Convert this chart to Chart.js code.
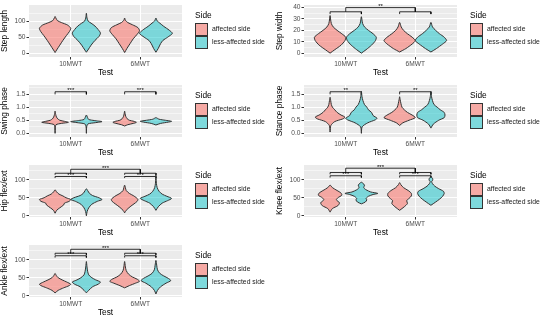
<!DOCTYPE html>
<html>
<head>
<meta charset="utf-8">
<script src="https://cdn.jsdelivr.net/npm/chart.js@4.4.0/dist/chart.umd.min.js"></script>
<style>
  body { margin: 0; background: #fff; }
  #wrap { position: relative; width: 550px; height: 320px; }
  canvas { position: absolute; }
</style>
</head>
<body>
<div id="wrap">
  <canvas id="stepLength" width="275" height="80" style="left:0;top:0"></canvas>
  <canvas id="stepWidth" width="275" height="80" style="left:275px;top:0"></canvas>
  <canvas id="swing" width="275" height="80" style="left:0;top:80px"></canvas>
  <canvas id="stance" width="275" height="80" style="left:275px;top:80px"></canvas>
  <canvas id="hip" width="275" height="80" style="left:0;top:160px"></canvas>
  <canvas id="knee" width="275" height="80" style="left:275px;top:160px"></canvas>
  <canvas id="ankle" width="275" height="80" style="left:0;top:240px"></canvas>
</div>
<script>
const tests = ['10MWT', '6MWT'];
const sides = ['affected side', 'less-affected side'];

// violin outlines, bottom tip to top tip: [value, relative width]
const stepLength10Aff  = [[2,0],[10,0.1],[25,0.3],[40,0.5],[55,0.72],[68,0.92],[78,1.0],[88,0.8],[96,0.4],[102,0.15],[110,0.05],[115,0]];
const stepLength10Less = [[3,0],[10,0.1],[25,0.3],[40,0.55],[52,0.8],[63,0.9],[74,0.75],[85,0.55],[94,0.3],[100,0.12],[110,0.04],[125,0]];
const stepLength6Aff   = [[2,0],[15,0.15],[30,0.35],[45,0.55],[58,0.78],[70,0.95],[80,0.85],[89,0.5],[96,0.2],[103,0.05],[110,0]];
const stepLength6Less  = [[3,0],[15,0.15],[30,0.3],[40,0.45],[50,0.75],[62,1.05],[72,0.85],[84,0.5],[94,0.25],[101,0.08],[110,0]];

const stepWidth10Aff  = [[0,0],[3,0.3],[7,0.7],[11,0.95],[14,1.0],[17,0.75],[20,0.45],[23,0.2],[26,0.08],[30,0.03],[33,0]];
const stepWidth10Less = [[0,0],[3,0.3],[7,0.65],[11,0.9],[14,0.95],[17,0.75],[20,0.45],[23,0.2],[26,0.08],[29,0.04],[32,0]];
const stepWidth6Aff   = [[1,0],[4,0.4],[8,0.8],[11,1.0],[14,0.8],[17,0.5],[20,0.25],[23,0.1],[27,0]];
const stepWidth6Less  = [[1,0],[4,0.35],[8,0.75],[11,1.0],[14,0.85],[17,0.55],[20,0.3],[23,0.1],[27,0]];

const swing10Aff  = [[0,0],[0.2,0.02],[0.33,0.06],[0.38,0.4],[0.42,0.85],[0.46,0.6],[0.5,0.3],[0.55,0.18],[0.62,0.09],[0.72,0.04],[0.85,0]];
const swing10Less = [[0,0],[0.25,0.02],[0.36,0.1],[0.41,0.6],[0.45,1.0],[0.49,0.5],[0.53,0.15],[0.6,0.08],[0.7,0]];
const swing6Aff   = [[0.28,0],[0.33,0.2],[0.38,0.55],[0.42,0.75],[0.46,0.6],[0.5,0.3],[0.56,0.16],[0.65,0.07],[0.75,0.03],[0.85,0]];
const swing6Less  = [[0.32,0],[0.38,0.3],[0.43,0.8],[0.46,1.0],[0.5,0.6],[0.54,0.2],[0.6,0]];

const stance10Aff  = [[0.05,0],[0.3,0.05],[0.45,0.3],[0.55,0.8],[0.62,0.95],[0.7,0.7],[0.8,0.45],[0.9,0.3],[1.0,0.15],[1.1,0.08],[1.25,0.04],[1.38,0]];
const stance10Less = [[0,0],[0.25,0.05],[0.4,0.4],[0.52,0.9],[0.58,1.0],[0.68,0.75],[0.8,0.65],[0.9,0.45],[1.0,0.35],[1.1,0.2],[1.25,0.1],[1.4,0.04],[1.6,0]];
const stance6Aff   = [[0.3,0],[0.4,0.2],[0.5,0.6],[0.6,1.0],[0.7,0.8],[0.8,0.5],[0.9,0.3],[1.0,0.15],[1.15,0.08],[1.3,0.03],[1.4,0]];
const stance6Less  = [[0.2,0],[0.35,0.15],[0.5,0.5],[0.6,0.85],[0.7,0.9],[0.8,0.85],[0.9,0.6],[1.0,0.4],[1.1,0.2],[1.25,0.1],[1.4,0.04],[1.6,0]];

const hip10Aff  = [[7,0],[15,0.1],[22,0.3],[30,0.55],[35,0.6],[40,0.9],[45,1.0],[50,0.7],[55,0.5],[60,0.25],[66,0.1],[72,0]];
const hip10Less = [[0,0],[12,0.05],[22,0.15],[32,0.35],[40,0.7],[45,1.0],[50,0.8],[56,0.4],[62,0.2],[70,0.08],[75,0]];
const hip6Aff   = [[8,0],[15,0.1],[25,0.35],[33,0.6],[40,0.8],[45,0.85],[50,0.75],[56,0.55],[62,0.3],[70,0.1],[78,0.05],[85,0]];
const hip6Less  = [[15,0],[25,0.15],[35,0.4],[42,0.75],[48,1.0],[54,0.7],[60,0.4],[68,0.2],[78,0.08],[90,0.03],[105,0.01],[118,0]];

const knee10Aff  = [[10,0],[20,0.15],[28,0.5],[36,0.6],[44,0.4],[50,0.5],[57,0.75],[63,0.7],[70,0.45],[78,0.15],[85,0]];
const knee10Less = [[33,0],[38,0.25],[44,0.35],[48,0.3],[54,0.45],[59,0.75],[62,1.05],[66,0.6],[72,0.3],[78,0.15],[85,0.2],[90,0.1],[93,0]];
const knee6Aff   = [[15,0],[25,0.3],[34,0.5],[42,0.45],[48,0.6],[55,0.75],[62,0.75],[70,0.55],[78,0.25],[86,0.08],[92,0]];
const knee6Less  = [[29,0],[38,0.3],[46,0.55],[54,0.75],[62,0.85],[68,0.8],[75,0.5],[82,0.25],[89,0.1],[95,0.05],[99,0.12],[104,0.1],[108,0]];

const ankle10Aff  = [[8,0],[15,0.2],[22,0.55],[28,0.9],[32,1.0],[38,0.75],[44,0.45],[50,0.2],[56,0.08],[62,0]];
const ankle10Less = [[8,0],[15,0.15],[25,0.4],[32,0.75],[38,0.9],[44,0.6],[50,0.35],[58,0.15],[68,0.08],[80,0.04],[95,0]];
const ankle6Aff   = [[22,0],[28,0.3],[35,0.7],[40,0.95],[46,0.8],[52,0.5],[60,0.25],[70,0.1],[80,0.05],[95,0]];
const ankle6Less  = [[5,0],[15,0.1],[25,0.3],[35,0.65],[42,0.95],[48,0.8],[55,0.5],[62,0.25],[72,0.1],[85,0.05],[98,0]];

// brackets: pair = [test index, y, tip y, label]; across = [y, tip y, label]
const stepWidthPairs = [[0, 36.3, 34.3, ''], [1, 36.3, 34.3, '']];
const stepWidthAcross = [40, 36.3, '**'];
const swingPairs = [[0, 1.59, 1.49, '***'], [1, 1.59, 1.49, '***']];
const stancePairs = [[0, 1.59, 1.49, '**'], [1, 1.59, 1.49, '**']];
const hipPairs = [[0, 118, 113.6, ''], [1, 118, 113.6, ''], [0, 109, 104.6, '***'], [1, 109, 104.6, '***']];
const hipAcross = [129, 118, '***'];
const kneePairs = [[0, 120, 115, ''], [1, 120, 115, ''], [0, 111, 106, '***'], [1, 111, 106, '***']];
const kneeAcross = [132, 120, '***'];
const anklePairs = [[0, 118, 113.6, ''], [1, 118, 113.6, ''], [0, 111, 106, '***'], [1, 111, 106, '***']];
const ankleAcross = [129, 118, '***'];

const bigMajor = [0, 50, 100], bigMinor = [25, 75, 125], bigLabels = ['0', '50', '100'];
const phaseMajor = [0, 0.5, 1, 1.5], phaseMinor = [0.25, 0.75, 1.25, 1.75], phaseLabels = ['0.0', '0.5', '1.0', '1.5'];
const widthMajor = [0, 10, 20, 30, 40], widthMinor = [5, 15, 25, 35], widthLabels = ['0', '10', '20', '30', '40'];

const panels = [
  {id: 'stepLength', title: 'Step length', min: -12, max: 151, major: bigMajor, minor: bigMinor, labels: bigLabels,
   violins: [stepLength10Aff, stepLength10Less, stepLength6Aff, stepLength6Less], pairs: [], across: null},
  {id: 'stepWidth', title: 'Step width', min: -3.4, max: 42.3, major: widthMajor, minor: widthMinor, labels: widthLabels,
   violins: [stepWidth10Aff, stepWidth10Less, stepWidth6Aff, stepWidth6Less], pairs: stepWidthPairs, across: stepWidthAcross},
  {id: 'swing', title: 'Swing phase', min: -0.14, max: 1.85, major: phaseMajor, minor: phaseMinor, labels: phaseLabels,
   violins: [swing10Aff, swing10Less, swing6Aff, swing6Less], pairs: swingPairs, across: null},
  {id: 'stance', title: 'Stance phase', min: -0.14, max: 1.85, major: phaseMajor, minor: phaseMinor, labels: phaseLabels,
   violins: [stance10Aff, stance10Less, stance6Aff, stance6Less], pairs: stancePairs, across: null},
  {id: 'hip', title: 'Hip flex/ext', min: -3.5, max: 141, major: bigMajor, minor: bigMinor, labels: bigLabels,
   violins: [hip10Aff, hip10Less, hip6Aff, hip6Less], pairs: hipPairs, across: hipAcross},
  {id: 'knee', title: 'Knee flex/ext', min: -3.5, max: 141, major: bigMajor, minor: bigMinor, labels: bigLabels,
   violins: [knee10Aff, knee10Less, knee6Aff, knee6Less], pairs: kneePairs, across: kneeAcross},
  {id: 'ankle', title: 'Ankle flex/ext', min: -3.5, max: 141, major: bigMajor, minor: bigMinor, labels: bigLabels,
   violins: [ankle10Aff, ankle10Less, ankle6Aff, ankle6Less], pairs: anklePairs, across: ankleAcross}
];

const FONT = "'Liberation Sans', Arial, sans-serif";
const fills = ['rgba(248,118,109,0.58)', 'rgba(0,191,196,0.48)'];
const DODGE = 0.225;   // half of dodge width
const HALF = 0.225;    // max violin half width

function outline(profile, cx) {
  const right = profile.map(([v, w]) => ({x: cx + w * HALF, y: v}));
  const left = profile.slice(0, -1).reverse().map(([v, w]) => ({x: cx - w * HALF, y: v}));
  return right.concat(left);
}

// grey panel background
const panelBg = {
  id: 'panelBg',
  beforeDraw(chart) {
    const a = chart.chartArea, ctx = chart.ctx;
    ctx.save();
    ctx.fillStyle = '#EBEBEB';
    ctx.fillRect(a.left, a.top, a.right - a.left, a.bottom - a.top);
    ctx.restore();
  }
};

// significance labels above brackets
const sigLabels = {
  id: 'sigLabels',
  afterDatasetsDraw(chart) {
    const ctx = chart.ctx, xs = chart.scales.x, ys = chart.scales.y;
    ctx.save();
    ctx.font = '6px ' + FONT;
    ctx.fillStyle = '#000';
    ctx.textAlign = 'center';
    ctx.textBaseline = 'bottom';
    chart.data.datasets.forEach(ds => {
      if (!ds.sig) return;
      ctx.fillText(ds.sig, xs.getPixelForValue(ds.sigX), ys.getPixelForValue(ds.sigY) + 2);
    });
    ctx.restore();
  }
};

// ggplot style legend on the right
const sideLegend = {
  id: 'sideLegend',
  afterDraw(chart) {
    const ctx = chart.ctx, x0 = chart.chartArea.right + 13;
    ctx.save();
    ctx.textBaseline = 'middle';
    ctx.fillStyle = '#000';
    ctx.font = '8.3px ' + FONT;
    ctx.fillText('Side', x0, 15.5);
    sides.forEach((s, i) => {
      const y = 23 + i * 13;
      ctx.fillStyle = '#F2F2F2';
      ctx.fillRect(x0, y, 13, 13);
      ctx.fillStyle = fills[i];
      ctx.fillRect(x0 + 0.5, y + 0.5, 12, 12);
      ctx.strokeStyle = '#333';
      ctx.lineWidth = 1;
      ctx.strokeRect(x0 + 0.5, y + 0.5, 12, 12);
      ctx.fillStyle = '#1a1a1a';
      ctx.font = '6.8px ' + FONT;
      ctx.fillText(s, x0 + 17, y + 6.5);
    });
    ctx.restore();
  }
};

function makeChart(p) {
  const datasets = [];
  p.violins.forEach((v, i) => {
    const t = i >> 1, side = i & 1;
    const cx = t + 1 + (side ? DODGE : -DODGE);
    datasets.push({
      label: sides[side], data: outline(v, cx), showLine: true, fill: 'shape',
      backgroundColor: fills[side], borderColor: '#333', borderWidth: 1,
      pointRadius: 0, tension: 0.25
    });
  });
  const bracket = (x1, x2, y, tip, label) => datasets.push({
    data: [{x: x1, y: tip}, {x: x1, y: y}, {x: x2, y: y}, {x: x2, y: tip}],
    showLine: true, fill: false, borderColor: '#000', borderWidth: 0.8, pointRadius: 0, tension: 0,
    sig: label, sigX: (x1 + x2) / 2, sigY: y
  });
  p.pairs.forEach(([t, y, tip, label]) => bracket(t + 1 - DODGE, t + 1 + DODGE, y, tip, label));
  if (p.across) bracket(1, 2, p.across[0], p.across[1], p.across[2]);

  const majorSet = new Set(p.major);
  const allTicks = p.major.concat(p.minor).filter(v => v <= p.max).sort((a, b) => a - b);

  new Chart(document.getElementById(p.id), {
    type: 'scatter',
    data: {datasets},
    plugins: [panelBg, sigLabels, sideLegend],
    options: {
      responsive: false,
      animation: false,
      events: [],
      layout: {padding: {top: 4, right: 93, left: 0, bottom: 0}},
      plugins: {legend: {display: false}, tooltip: {enabled: false}},
      scales: {
        x: {
          type: 'linear', min: 0.4, max: 2.6,
          afterBuildTicks: s => { s.ticks = [{value: 1}, {value: 2}]; },
          afterFit: s => { s.height = 23; },
          ticks: {callback: v => tests[v - 1], color: '#4D4D4D', font: {family: FONT, size: 6.6}, padding: 1, autoSkip: false, maxRotation: 0},
          grid: {color: '#fff', lineWidth: 1, tickColor: '#333', tickLength: 2.5},
          border: {display: false},
          title: {display: true, text: 'Test', color: '#000', font: {family: FONT, size: 8.3}, padding: {top: 0, bottom: 2}}
        },
        y: {
          min: p.min, max: p.max,
          afterBuildTicks: s => { s.ticks = allTicks.map(v => ({value: v})); },
          afterFit: s => { s.width = 29; },
          ticks: {
            callback: v => majorSet.has(v) ? p.labels[p.major.indexOf(v)] : '',
            color: '#4D4D4D', font: {family: FONT, size: 6.6}, padding: 1, autoSkip: false
          },
          grid: {
            color: '#fff',
            lineWidth: c => majorSet.has(c.tick.value) ? 1 : 0.5,
            tickColor: c => majorSet.has(c.tick.value) ? '#333' : 'rgba(0,0,0,0)',
            tickLength: 2.5
          },
          border: {display: false},
          title: {display: true, text: p.title, color: '#000', font: {family: FONT, size: 8.3}, padding: 0}
        }
      }
    }
  });
}

panels.forEach(makeChart);
</script>
</body>
</html>
